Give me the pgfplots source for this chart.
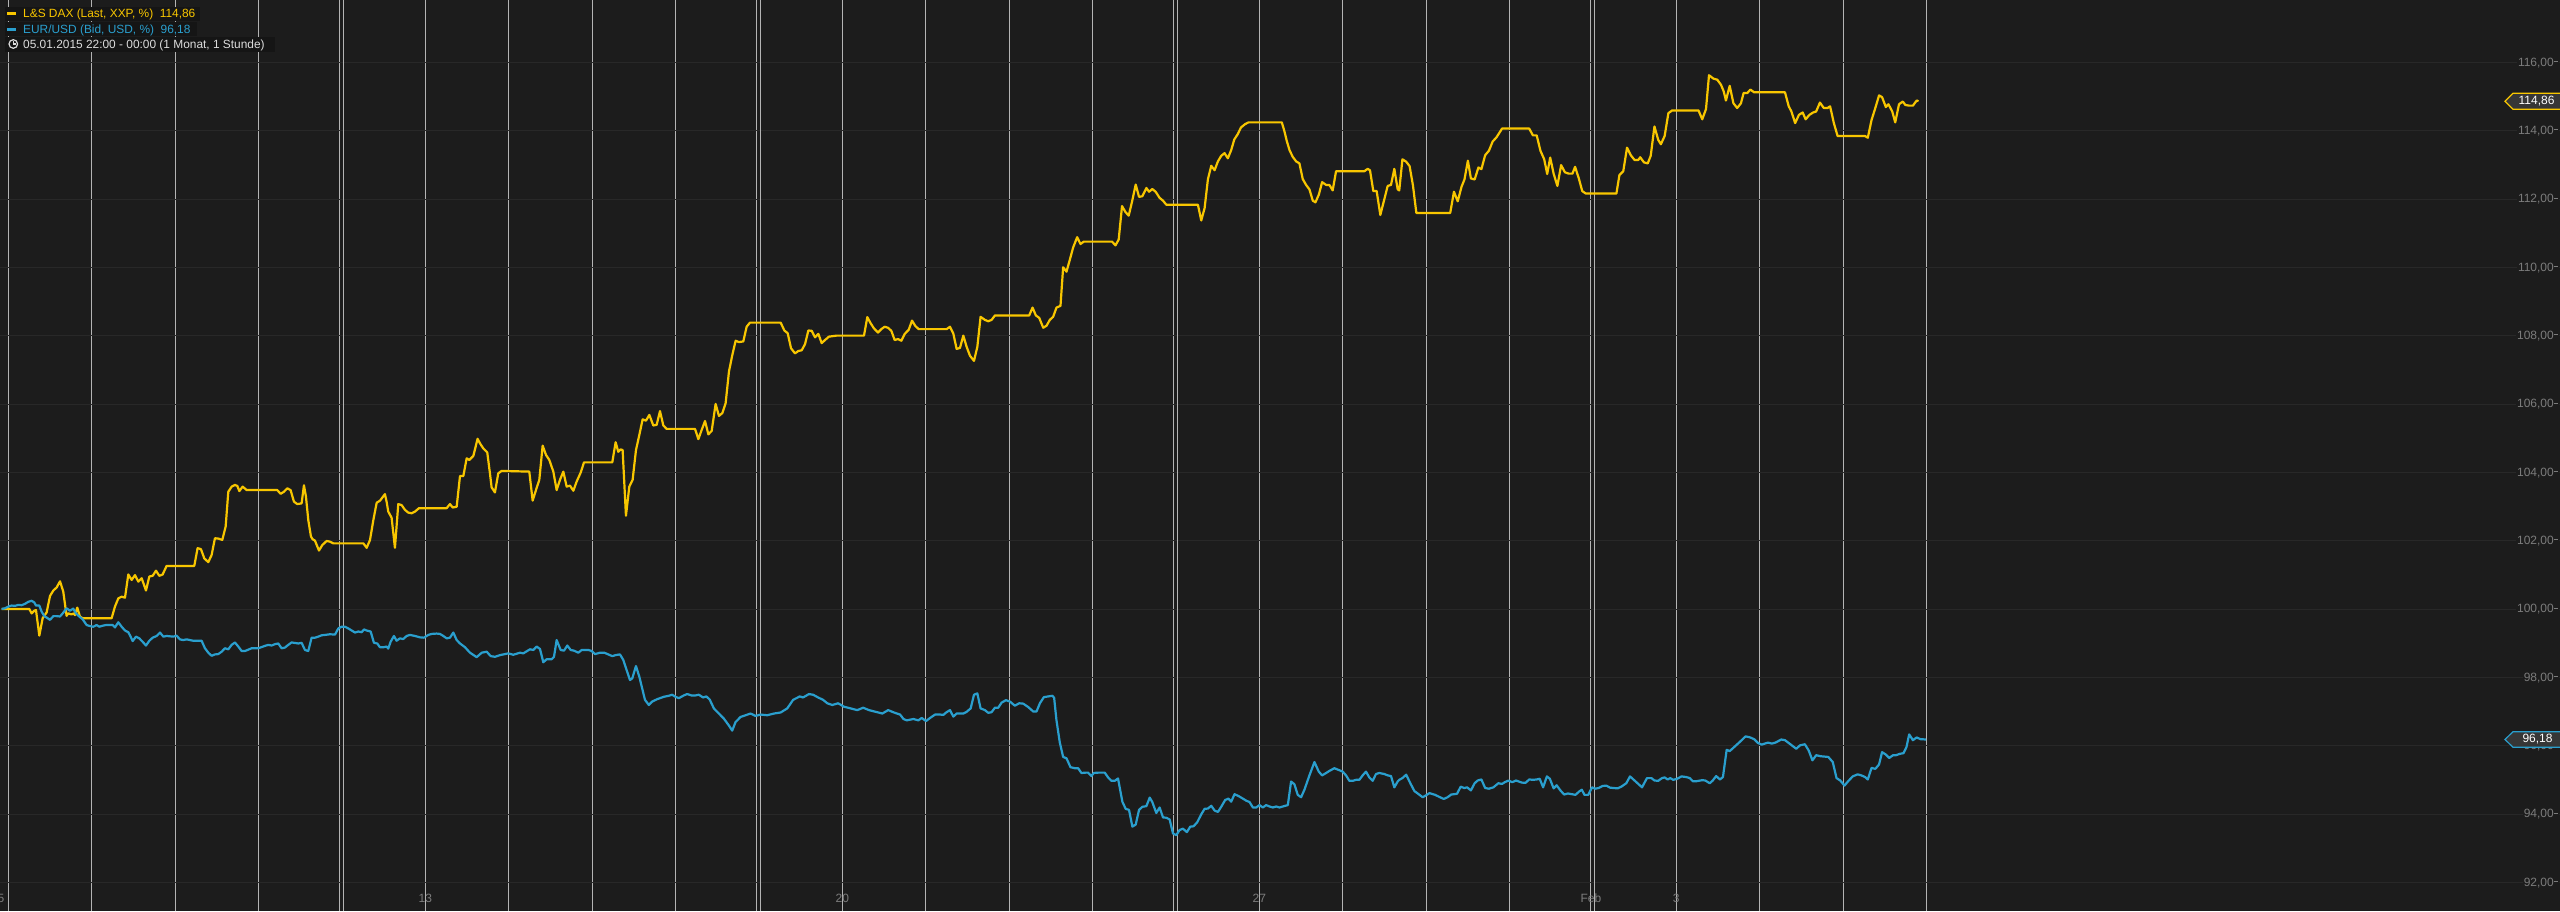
\documentclass[border=0pt]{standalone}
\usepackage{fontspec}
\setmainfont{Liberation Sans}
\usepackage{pgfplots}
\usepackage{pgfplotstable}
\pgfplotsset{compat=1.18}

\definecolor{bg}{HTML}{1C1C1C}
\definecolor{daxc}{HTML}{F8C600}
\definecolor{eurc}{HTML}{2A9FCE}
\definecolor{vline}{HTML}{B4B4B4}
\definecolor{hline}{HTML}{282828}
\definecolor{ticktext}{HTML}{7C7C7C}
\definecolor{tagfill}{HTML}{363636}
\definecolor{boxfill}{HTML}{151515}
\definecolor{infotext}{HTML}{DCDCDC}

% x = trading days since 06.01.2015 00:00 (weekends compressed), y = percent
\pgfplotstableread{
d v
-0.080 100.01
0.252 100.01
0.280 99.88
0.312 99.96
0.332 99.98
0.372 99.23
0.412 99.74
0.460 99.91
0.500 100.39
0.540 100.55
0.580 100.64
0.620 100.82
0.659 100.52
0.699 99.81
0.719 99.88
0.759 99.85
0.787 99.88
0.799 99.83
0.827 100.05
0.859 99.79
0.891 99.74
1.239 99.74
1.279 100.08
1.319 100.32
1.359 100.37
1.399 100.34
1.439 101.02
1.479 100.86
1.519 101.00
1.559 100.81
1.599 100.91
1.651 100.55
1.691 100.96
1.731 100.98
1.771 101.13
1.811 100.98
1.851 101.02
1.898 101.27
2.230 101.27
2.270 101.79
2.310 101.76
2.350 101.49
2.398 101.38
2.438 101.59
2.478 102.08
2.518 102.07
2.566 102.03
2.606 102.42
2.638 103.44
2.678 103.59
2.718 103.64
2.746 103.61
2.770 103.46
2.810 103.59
2.858 103.49
3.225 103.49
3.265 103.38
3.305 103.44
3.345 103.54
3.385 103.49
3.425 103.15
3.465 103.08
3.517 103.10
3.545 103.63
3.569 103.30
3.597 102.61
3.629 102.13
3.649 102.05
3.677 102.01
3.725 101.72
3.765 101.88
3.817 102.00
3.857 101.98
3.897 101.93
4.257 101.93
4.297 101.80
4.337 102.03
4.377 102.61
4.417 103.12
4.457 103.18
4.516 103.37
4.536 103.15
4.556 102.86
4.596 102.68
4.636 101.80
4.676 103.08
4.716 103.05
4.756 102.91
4.796 102.83
4.836 102.81
4.876 102.86
4.924 102.96
5.256 102.96
5.296 103.08
5.328 102.98
5.376 103.00
5.416 103.90
5.456 103.90
5.496 104.42
5.528 104.37
5.576 104.49
5.627 104.99
5.655 104.86
5.695 104.71
5.743 104.59
5.775 103.98
5.795 103.57
5.835 103.42
5.875 103.98
5.915 104.05
6.247 104.03
6.287 103.18
6.327 103.49
6.367 103.79
6.407 104.79
6.447 104.52
6.487 104.37
6.535 104.03
6.575 103.49
6.615 103.79
6.655 104.03
6.695 103.59
6.735 103.62
6.775 103.47
6.815 103.74
6.863 104.00
6.903 104.30
7.242 104.30
7.282 104.89
7.314 104.61
7.342 104.68
7.366 104.66
7.406 102.74
7.446 103.59
7.486 103.79
7.526 104.66
7.566 105.10
7.606 105.56
7.646 105.52
7.686 105.69
7.734 105.38
7.774 105.40
7.814 105.80
7.854 105.38
7.894 105.28
8.234 105.28
8.274 104.98
8.314 105.25
8.354 105.51
8.394 105.12
8.434 105.22
8.481 106.01
8.521 105.66
8.561 105.74
8.601 106.03
8.641 106.96
8.681 107.44
8.721 107.86
8.761 107.82
8.813 107.84
8.853 108.27
8.893 108.39
9.261 108.39
9.305 108.16
9.345 108.08
9.385 107.64
9.433 107.49
9.473 107.56
9.513 107.58
9.553 107.76
9.593 108.16
9.633 108.15
9.673 107.96
9.713 108.06
9.753 107.79
9.792 107.88
9.840 107.98
9.932 108.01
10.260 108.01
10.300 108.55
10.340 108.37
10.380 108.22
10.428 108.10
10.468 108.20
10.508 108.27
10.548 108.24
10.588 108.15
10.628 107.88
10.668 107.91
10.708 107.86
10.748 108.06
10.796 108.18
10.836 108.45
10.876 108.29
10.916 108.20
11.251 108.20
11.291 108.27
11.331 108.07
11.371 107.62
11.411 107.65
11.451 108.01
11.491 107.68
11.531 107.42
11.579 107.27
11.619 107.68
11.658 108.56
11.710 108.47
11.750 108.43
11.790 108.47
11.830 108.60
12.241 108.60
12.281 108.83
12.321 108.60
12.361 108.53
12.409 108.24
12.449 108.30
12.488 108.47
12.528 108.56
12.568 108.83
12.616 108.88
12.648 110.01
12.688 109.88
12.728 110.23
12.768 110.59
12.816 110.89
12.856 110.69
12.895 110.76
13.235 110.76
13.275 110.65
13.314 110.82
13.354 111.80
13.394 111.63
13.434 111.52
13.474 111.93
13.518 112.43
13.558 112.07
13.598 112.09
13.646 112.33
13.678 112.22
13.717 112.30
13.757 112.22
13.805 112.04
13.845 111.96
13.885 111.84
14.264 111.84
14.304 111.38
14.344 111.74
14.384 112.59
14.424 112.98
14.464 112.85
14.504 113.11
14.543 113.27
14.583 113.35
14.623 113.20
14.663 113.44
14.700 113.75
14.740 113.90
14.780 114.10
14.830 114.20
14.870 114.25
15.270 114.25
15.300 114.00
15.330 113.70
15.362 113.44
15.401 113.24
15.441 113.11
15.481 113.05
15.521 112.59
15.561 112.42
15.601 112.29
15.641 111.96
15.673 111.91
15.713 112.13
15.753 112.50
15.801 112.42
15.840 112.42
15.880 112.26
15.920 112.82
16.259 112.82
16.299 112.89
16.327 112.85
16.367 112.24
16.407 112.24
16.451 111.54
16.499 112.00
16.539 112.39
16.579 112.42
16.619 112.89
16.659 112.29
16.678 112.26
16.716 113.17
16.761 113.10
16.802 112.97
16.842 112.41
16.883 111.60
17.289 111.60
17.334 112.22
17.379 111.94
17.424 112.36
17.460 112.58
17.501 113.13
17.537 112.61
17.582 112.58
17.627 112.93
17.663 112.88
17.708 113.29
17.753 113.42
17.798 113.69
17.843 113.81
17.911 114.07
18.236 114.07
18.281 113.87
18.326 113.87
18.371 113.42
18.416 113.17
18.452 112.74
18.488 113.22
18.529 112.75
18.574 112.39
18.619 113.00
18.664 112.79
18.710 112.75
18.755 112.75
18.786 112.95
18.831 112.61
18.872 112.24
18.913 112.17
19.282 112.17
19.318 112.71
19.364 112.82
19.409 113.51
19.454 113.29
19.499 113.15
19.544 113.15
19.567 113.23
19.612 113.08
19.657 113.05
19.693 113.27
19.738 114.13
19.783 113.74
19.815 113.61
19.860 113.85
19.905 114.52
19.950 114.60
20.266 114.60
20.311 114.34
20.356 114.64
20.392 115.63
20.446 115.53
20.491 115.50
20.536 115.35
20.568 115.16
20.595 114.89
20.640 115.32
20.685 114.81
20.730 114.67
20.775 114.81
20.807 115.11
20.852 115.11
20.888 115.21
20.933 115.13
21.303 115.13
21.348 114.72
21.380 114.57
21.425 114.23
21.470 114.47
21.515 114.54
21.551 114.34
21.596 114.47
21.641 114.54
21.677 114.57
21.722 114.83
21.768 114.67
21.813 114.67
21.844 114.72
21.889 114.23
21.934 113.85
22.264 113.85
22.296 113.80
22.341 114.32
22.386 114.67
22.431 115.04
22.467 114.99
22.512 114.70
22.544 114.78
22.589 114.57
22.625 114.25
22.670 114.78
22.715 114.86
22.747 114.76
22.792 114.74
22.837 114.74
22.882 114.89
22.904 114.87
}\dax

\pgfplotstableread{
d v
-0.080 100.01
-0.040 100.03
0.000 100.08
0.040 100.11
0.080 100.10
0.120 100.13
0.160 100.12
0.200 100.16
0.240 100.22
0.280 100.25
0.312 100.20
0.332 100.11
0.372 100.11
0.400 99.93
0.432 99.80
0.472 99.74
0.500 99.69
0.540 99.80
0.580 99.80
0.620 99.79
0.659 99.90
0.699 100.03
0.739 99.96
0.779 100.02
0.811 99.88
0.851 99.79
0.891 99.71
0.939 99.54
0.979 99.51
1.019 99.49
1.059 99.54
1.091 99.49
1.131 99.52
1.171 99.54
1.251 99.54
1.279 99.47
1.319 99.62
1.359 99.49
1.399 99.38
1.439 99.33
1.467 99.20
1.491 99.07
1.531 99.20
1.571 99.15
1.611 99.05
1.651 98.94
1.691 99.08
1.731 99.17
1.779 99.22
1.819 99.32
1.859 99.20
1.898 99.22
1.978 99.20
2.018 99.23
2.058 99.12
2.098 99.10
2.138 99.12
2.218 99.08
2.318 99.08
2.358 98.86
2.398 98.73
2.438 98.64
2.478 98.68
2.518 98.69
2.558 98.76
2.598 98.86
2.638 98.83
2.678 98.96
2.718 99.03
2.758 98.91
2.798 98.78
2.838 98.78
2.918 98.86
2.998 98.86
3.078 98.93
3.118 98.96
3.157 98.94
3.197 98.98
3.237 99.00
3.277 98.86
3.317 98.88
3.357 98.96
3.397 99.03
3.477 99.00
3.517 99.02
3.557 98.81
3.597 98.78
3.637 99.17
3.677 99.17
3.717 99.20
3.757 99.24
3.797 99.25
3.857 99.27
3.917 99.26
3.957 99.44
3.997 99.49
4.037 99.49
4.077 99.44
4.117 99.38
4.157 99.32
4.197 99.35
4.237 99.33
4.265 99.41
4.297 99.38
4.345 99.35
4.384 99.02
4.424 99.00
4.456 98.89
4.496 98.89
4.536 98.91
4.556 98.85
4.584 99.05
4.624 99.22
4.656 99.08
4.696 99.15
4.736 99.13
4.776 99.22
4.816 99.25
4.876 99.22
4.936 99.18
4.984 99.17
5.036 99.25
5.076 99.28
5.136 99.29
5.176 99.28
5.216 99.22
5.256 99.15
5.296 99.17
5.336 99.32
5.376 99.10
5.416 99.00
5.476 98.89
5.536 98.73
5.616 98.60
5.676 98.73
5.736 98.76
5.784 98.63
5.836 98.61
5.896 98.66
5.995 98.71
6.055 98.67
6.135 98.73
6.175 98.71
6.255 98.83
6.295 98.81
6.335 98.91
6.375 98.84
6.415 98.45
6.455 98.54
6.515 98.54
6.543 98.61
6.575 99.10
6.623 98.81
6.663 98.79
6.703 98.94
6.743 98.81
6.783 98.79
6.835 98.73
6.875 98.81
6.955 98.81
6.995 98.78
7.035 98.69
7.095 98.73
7.146 98.73
7.194 98.68
7.242 98.63
7.282 98.66
7.334 98.68
7.374 98.52
7.414 98.22
7.454 97.93
7.482 97.98
7.526 98.34
7.566 98.03
7.634 97.35
7.680 97.20
7.720 97.30
7.780 97.37
7.860 97.44
7.920 97.47
7.960 97.50
8.000 97.44
8.040 97.40
8.100 97.48
8.140 97.52
8.190 97.48
8.240 97.48
8.280 97.50
8.330 97.42
8.370 97.45
8.410 97.36
8.460 97.10
8.520 96.95
8.580 96.80
8.640 96.60
8.680 96.45
8.720 96.70
8.780 96.85
8.840 96.90
8.900 96.95
8.960 96.88
9.020 96.92
9.100 96.90
9.180 96.95
9.260 96.98
9.340 97.10
9.410 97.35
9.450 97.40
9.490 97.45
9.530 97.42
9.600 97.52
9.650 97.50
9.710 97.42
9.770 97.35
9.820 97.25
9.880 97.20
9.950 97.25
10.020 97.15
10.100 97.10
10.180 97.05
10.250 97.12
10.320 97.05
10.400 97.00
10.480 96.95
10.550 97.05
10.620 96.98
10.693 96.92
10.733 96.79
10.773 96.75
10.852 96.79
10.912 96.75
10.952 96.82
11.004 96.73
11.052 96.82
11.112 96.92
11.172 96.92
11.211 96.91
11.251 96.99
11.291 97.05
11.331 96.86
11.371 96.95
11.451 96.95
11.491 97.00
11.539 97.10
11.579 97.50
11.619 97.54
11.658 97.10
11.710 97.05
11.750 96.97
11.790 96.99
11.830 97.12
11.870 97.12
11.910 97.27
11.962 97.34
12.010 97.30
12.069 97.18
12.121 97.25
12.169 97.24
12.229 97.14
12.289 97.01
12.329 97.01
12.369 97.25
12.417 97.43
12.468 97.45
12.520 97.47
12.540 97.41
12.568 96.75
12.608 96.10
12.648 95.68
12.688 95.64
12.736 95.38
12.788 95.35
12.828 95.35
12.867 95.21
12.919 95.22
12.947 95.22
12.987 95.12
13.015 95.21
13.067 95.22
13.147 95.22
13.187 95.08
13.227 94.98
13.267 94.98
13.306 95.05
13.358 94.37
13.398 94.16
13.438 94.13
13.478 93.64
13.518 93.70
13.558 94.13
13.598 94.22
13.646 94.24
13.686 94.49
13.717 94.36
13.765 94.04
13.805 94.20
13.845 93.91
13.885 93.90
13.925 93.85
13.965 93.44
14.005 93.39
14.044 93.54
14.084 93.58
14.132 93.48
14.172 93.64
14.212 93.65
14.256 93.77
14.304 94.00
14.344 94.16
14.384 94.17
14.424 94.25
14.464 94.11
14.504 94.07
14.543 94.22
14.591 94.42
14.631 94.46
14.663 94.37
14.703 94.59
14.755 94.53
14.803 94.46
14.843 94.40
14.883 94.36
14.923 94.20
14.963 94.20
15.002 94.27
15.042 94.20
15.082 94.27
15.122 94.23
15.162 94.20
15.202 94.23
15.242 94.20
15.282 94.23
15.342 94.27
15.381 94.96
15.421 94.88
15.461 94.57
15.501 94.50
15.541 94.72
15.601 95.14
15.661 95.53
15.713 95.25
15.753 95.14
15.801 95.21
15.840 95.27
15.900 95.35
15.940 95.31
16.000 95.25
16.040 95.14
16.080 94.98
16.120 94.98
16.160 95.01
16.200 95.01
16.239 95.14
16.279 95.25
16.319 95.08
16.359 94.98
16.399 95.18
16.439 95.21
16.499 95.18
16.539 95.14
16.579 95.12
16.619 94.79
16.659 94.96
16.678 95.01
16.716 95.06
16.761 95.16
16.815 94.89
16.860 94.68
16.905 94.60
16.959 94.50
16.995 94.55
17.041 94.62
17.108 94.57
17.167 94.50
17.212 94.45
17.257 94.50
17.302 94.58
17.370 94.60
17.415 94.81
17.456 94.77
17.492 94.79
17.537 94.70
17.582 94.91
17.618 94.99
17.663 95.02
17.708 94.77
17.753 94.75
17.807 94.79
17.866 94.91
17.911 94.89
17.943 94.94
17.988 94.99
18.033 94.94
18.078 94.99
18.146 94.93
18.191 94.92
18.236 95.02
18.281 95.01
18.326 95.02
18.362 95.04
18.403 94.79
18.448 95.11
18.484 95.04
18.529 94.76
18.565 94.85
18.610 94.70
18.655 94.58
18.700 94.61
18.746 94.59
18.791 94.57
18.836 94.67
18.867 94.72
18.899 94.57
18.944 94.57
18.989 94.79
19.025 94.75
19.070 94.77
19.115 94.83
19.161 94.84
19.206 94.78
19.296 94.76
19.341 94.81
19.400 94.91
19.445 95.11
19.490 95.01
19.535 94.91
19.589 94.79
19.648 95.06
19.702 95.06
19.738 94.99
19.783 94.98
19.828 95.06
19.860 95.08
19.896 95.02
19.927 95.06
19.963 95.01
20.009 95.04
20.063 95.11
20.121 95.09
20.162 95.06
20.198 94.97
20.243 94.97
20.311 95.00
20.347 94.99
20.401 94.91
20.437 94.99
20.478 95.12
20.523 95.02
20.559 95.09
20.604 95.89
20.640 95.85
20.694 95.97
20.762 96.12
20.830 96.28
20.875 96.26
20.933 96.20
20.978 96.09
21.023 96.04
21.100 96.10
21.145 96.07
21.190 96.10
21.258 96.19
21.303 96.17
21.357 96.07
21.438 95.92
21.484 96.02
21.542 96.05
21.587 95.87
21.632 95.58
21.677 95.73
21.732 95.70
21.822 95.68
21.876 95.53
21.921 95.06
21.966 94.99
22.016 94.84
22.061 94.97
22.115 95.11
22.174 95.17
22.219 95.14
22.264 95.09
22.296 95.02
22.341 95.36
22.386 95.33
22.431 95.46
22.467 95.82
22.512 95.75
22.553 95.65
22.598 95.73
22.634 95.73
22.679 95.77
22.724 95.79
22.760 95.97
22.792 96.34
22.837 96.17
22.882 96.25
22.927 96.20
22.995 96.19
}\eurusd

\begin{document}
\begin{tikzpicture}
\begin{axis}[
  scale only axis,
  width=2560pt, height=911pt,
  xmin=-0.0995, xmax=30.596,
  ymin=91.171, ymax=117.832,
  axis line style={draw=none},
  axis background/.style={fill=bg},
  major tick length=0pt,
  /pgf/number format/assume math mode=true,
  xtick={0,1,2,3,3.976,5,6,7,8,8.976,10,11,12,13,13.976,15,16,17,18,18.976,20,21,22,23},
  xticklabels={,,,,,13,,,,,20,,,,,27,,,,Feb,3,,,},
  extra x ticks={4.024,9.024,14.024,19.024},
  extra x tick labels={},
  extra x tick style={grid=major},
  xticklabel style={anchor=base, yshift=8.7pt, text=ticktext, font=\fontsize{12}{14}\selectfont},
  ytick={92,94,...,116},
  yticklabel pos=right,
  yticklabel={\pgfmathprintnumber[fixed,fixed zerofill,precision=2,use comma]{\tick}\rule[4pt]{4pt}{0.9pt}},
  yticklabel style={anchor=east, xshift=-1pt, inner sep=1pt, fill=bg, text=ticktext, font=\fontsize{12}{14}\selectfont},
  xmajorgrids, ymajorgrids,
  x grid style={vline, line width=1pt},
  y grid style={hline, line width=1pt},
]
\addplot[daxc, line width=2.2pt, line join=round] table[x=d, y=v] {\dax};
\addplot[eurc, line width=2.2pt, line join=round] table[x=d, y=v] {\eurusd};
\end{axis}

% legend block, top left
\fill[boxfill] (5pt,890.3pt) rectangle (200pt,904.3pt);
\fill[boxfill] (5pt,875pt) rectangle (197pt,889.3pt);
\fill[boxfill] (5pt,859.3pt) rectangle (275pt,873.7pt);
\fill[daxc] (7.3pt,895.7pt) rectangle (16pt,899pt);
\fill[eurc] (7.3pt,880pt) rectangle (16pt,883.3pt);
\draw[infotext, line width=1.2pt] (13.3pt,867pt) circle (4.3pt);
\draw[infotext, line width=1.1pt] (13.3pt,870pt) -- (13.3pt,867pt) -- (15.6pt,867pt);
\node[anchor=base west, inner sep=0pt, text=daxc, font=\fontsize{11.9}{14}\selectfont] at (23pt,893pt) {L\&S DAX (Last, XXP, \%)\hspace{0.55em}114,86};
\node[anchor=base west, inner sep=0pt, text=eurc, font=\fontsize{11.9}{14}\selectfont] at (23pt,877.9pt) {EUR/USD (Bid, USD, \%)\hspace{0.55em}96,18};
\node[anchor=base west, inner sep=0pt, text=infotext, font=\fontsize{11.9}{14}\selectfont] at (23pt,862.2pt) {05.01.2015 22:00 - 00:00 (1 Monat, 1 Stunde)};

% first date label, cut at the left edge
\node[anchor=base east, inner sep=0pt, text=ticktext, font=\fontsize{12}{14}\selectfont] at (4.5pt,8.7pt) {5};

% last value tags on the right
\filldraw[fill=tagfill, draw=daxc, line width=1.2pt] (2505pt,809.7pt) -- (2513pt,817.7pt) -- (2561pt,817.7pt) -- (2561pt,801.7pt) -- (2513pt,801.7pt) -- cycle;
\node[text=white, inner sep=0pt, font=\fontsize{12}{14}\selectfont] at (2536.5pt,809.7pt) {114,86};
\filldraw[fill=tagfill, draw=eurc, line width=1.2pt] (2505pt,171.5pt) -- (2513pt,179.3pt) -- (2561pt,179.3pt) -- (2561pt,163.7pt) -- (2513pt,163.7pt) -- cycle;
\node[text=white, inner sep=0pt, font=\fontsize{12}{14}\selectfont] at (2537.5pt,171.5pt) {96,18};

\pgfresetboundingbox
\path[use as bounding box] (0pt,0pt) rectangle (2560pt,911pt);
\end{tikzpicture}
\end{document}
